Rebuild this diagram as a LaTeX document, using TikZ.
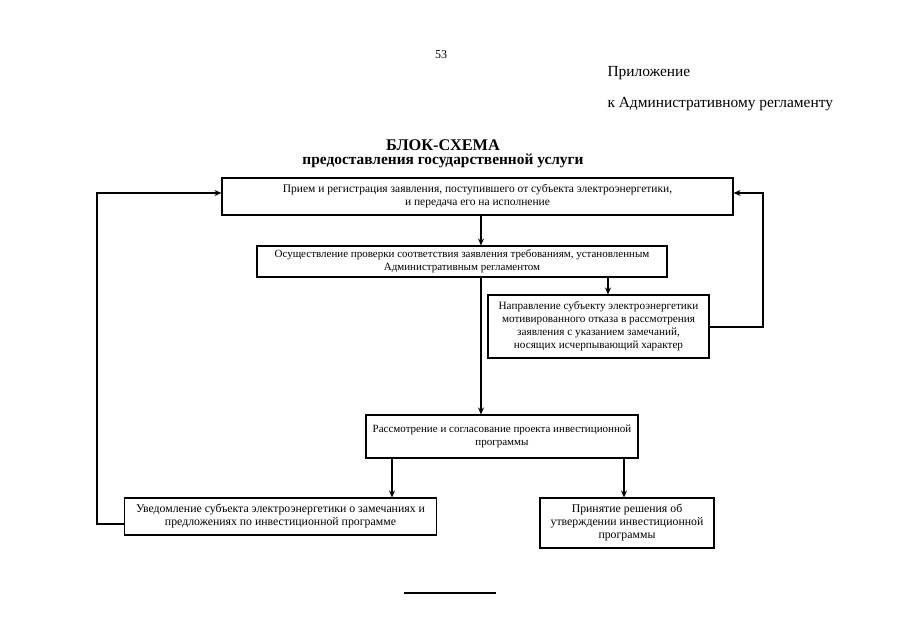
\documentclass[tikz,border=0pt]{standalone}
\usepackage{fontspec}
\setmainfont{Liberation Serif}
\usetikzlibrary{arrows.meta}
\begin{document}
\begin{tikzpicture}[x=1pt,y=-1pt,
  box/.style={draw,line width=1.1pt,inner sep=0pt,align=center},
  fs/.style={font=\fontsize{#1}{13}\selectfont},
  arr/.style={line width=1.1pt,-{Stealth[length=7pt,width=6pt]}},
  ln/.style={line width=1.2pt}]
\useasboundingbox[fill=white] (0,0) rectangle (905,640);
\node (pg) at (441,55) {\fontsize{12}{14}\selectfont 53};
\node[anchor=west] (pril) at (604,73) {\fontsize{15.4}{17}\selectfont Приложение};
\node[anchor=west] (reg) at (604,104) {\fontsize{15.4}{17}\selectfont к Административному регламенту};
\node[font=\fontsize{16.3}{17}\selectfont\bfseries] (title) at (443,145) {БЛОК-СХЕМА};
\node[font=\fontsize{15.4}{17}\selectfont\bfseries] (sub) at (443,161) {предоставления государственной услуги};

\node[box,fs=11.5,minimum width=511pt,minimum height=37pt] (b1) at (477.5,196.5)
 {Прием и регистрация заявления, поступившего от субъекта электроэнергетики,\\ и передача его на исполнение};
\node[box,fs=11,minimum width=410pt,minimum height=31pt] (b2) at (462,261.5)
 {Осуществление проверки соответствия заявления требованиям, установленным\\ Административным регламентом};
\node[box,fs=11.2,minimum width=221pt,minimum height=63pt] (b3) at (598.5,326.5)
 {Направление субъекту электроэнергетики\\ мотивированного отказа в рассмотрения\\ заявления с указанием замечаний,\\ носящих исчерпывающий характер};
\node[box,fs=11,minimum width=272pt,minimum height=43pt] (b4) at (502,436.5)
 {Рассмотрение и согласование проекта инвестиционной\\ программы};
\node[box,fs=11.8,minimum width=312pt,minimum height=37pt] (b5) at (280.5,516.5)
 {Уведомление субъекта электроэнергетики о замечаниях и\\ предложениях по инвестиционной программе};
\node[box,fs=11.8,minimum width=174pt,minimum height=50pt] (b6) at (627,523)
 {Принятие решения об\\ утверждении инвестиционной\\ программы};

\coordinate (xa) at (481,0);
\coordinate (xb) at (608,0);
\coordinate (xc) at (392,0);
\coordinate (xd) at (624,0);
\coordinate (ya) at (0,193);
\coordinate (yb) at (0,327);
\coordinate (yc) at (0,524);
\coordinate (lt) at (97,193);
\coordinate (lb) at (97,524);
\coordinate (rt) at (763,193);
\coordinate (rb) at (763,327);

\draw[arr] (b1.south -| xa) -- (b2.north -| xa);
\draw[arr] (b2.south -| xb) -- (b3.north -| xb);
\draw[arr] (b2.south -| xa) -- (b4.north -| xa);
\draw[arr] (b4.south -| xc) -- (b5.north -| xc);
\draw[arr] (b4.south -| xd) -- (b6.north -| xd);
\draw[arr] (b5.west |- yc) -- (lb) -- (lt) -- (b1.west |- ya);
\draw[arr] (b3.east |- yb) -- (rb) -- (rt) -- (b1.east |- ya);

\coordinate (f1) at (404,593);
\coordinate (f2) at (496,593);
\draw[ln] (f1) -- (f2);
\end{tikzpicture}
\end{document}
